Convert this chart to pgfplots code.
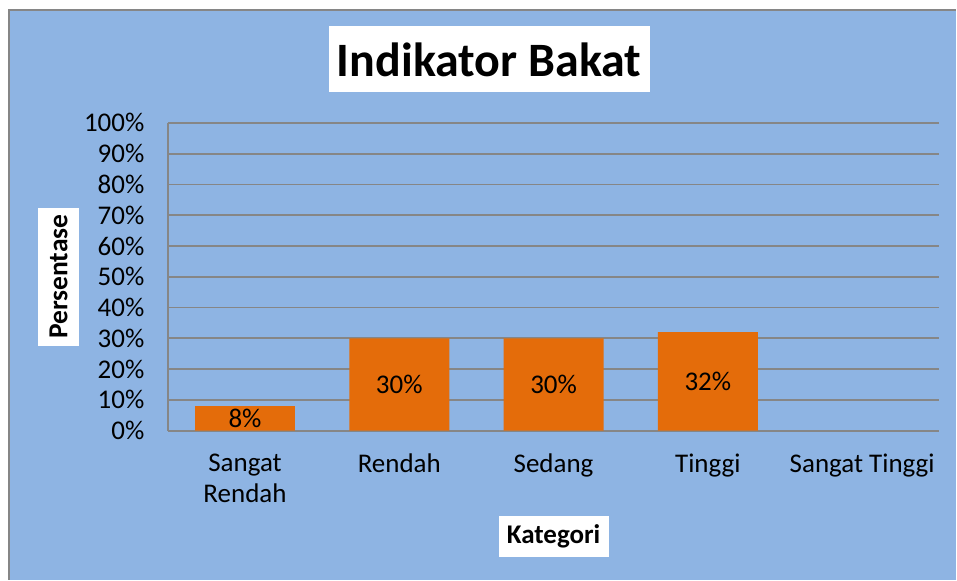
\documentclass[border=0pt]{standalone}
\usepackage{pgfplots}
\pgfplotsset{compat=1.18}
\usepackage{fontspec}
\setmainfont{Carlito}
\definecolor{bgblue}{HTML}{8EB4E3}
\definecolor{barorange}{HTML}{E46C0A}
\definecolor{gridgray}{HTML}{868686}
\begin{document}
\begin{tikzpicture}[x=1pt,y=1pt]
% background
\fill[white] (0,0) rectangle (957,-580);
\fill[bgblue] (9,-10) rectangle (957,-580);
\draw[gridgray, line width=1.5pt] (9,-580) -- (9,-10) -- (957,-10);
% title
\fill[white] (329,-26) rectangle (650,-92);
\node[font=\fontsize{48}{58}\selectfont\bfseries] at (489.5,-60) {Indikator Bakat};
% y label
\fill[white] (38,-208) rectangle (79,-346);
\node[rotate=90, font=\fontsize{27.5}{33}\selectfont\bfseries] at (58.5,-277) {Persentase};
% x label
\fill[white] (499,-516) rectangle (609,-557);
\node[font=\fontsize{27}{32}\selectfont\bfseries] at (554,-536.5) {Kategori};
\begin{axis}[
  at={(168pt,-431pt)}, anchor=south west,
  scale only axis, width=772pt, height=308pt,
  xmin=-0.5, xmax=4.5, ymin=0, ymax=100,
  axis x line*=bottom, axis y line*=left,
  axis line style={gridgray, line width=1.8pt, -},
  ytick={0,10,...,100},
  yticklabel={\pgfmathprintnumber{\tick}\%},
  /pgf/number format/assume math mode=true,
  xtick={0,1,2,3,4},
  xticklabels={{Sangat\\Rendah},Rendah,Sedang,Tinggi,{Sangat Tinggi}},
  major tick length=0pt,
  ymajorgrids,
  grid style={gridgray, line width=1.8pt},
  tick label style={font=\fontsize{27}{31}\selectfont},
  y tick label style={xshift=-20pt},
  x tick label style={align=center, yshift=-20pt},
  ybar, bar width=100pt,
  visualization depends on={y \as \rawy},
  nodes near coords={\pgfmathprintnumber{\rawy}\%},
  every node near coord/.append style={anchor=center, font=\fontsize{27}{32}\selectfont, yshift={-1.54pt*\rawy}},
  clip=false,
]
\addplot[fill=barorange, draw=none] coordinates {(0,8) (1,30) (2,30) (3,32)};
\end{axis}
\end{tikzpicture}
\end{document}
